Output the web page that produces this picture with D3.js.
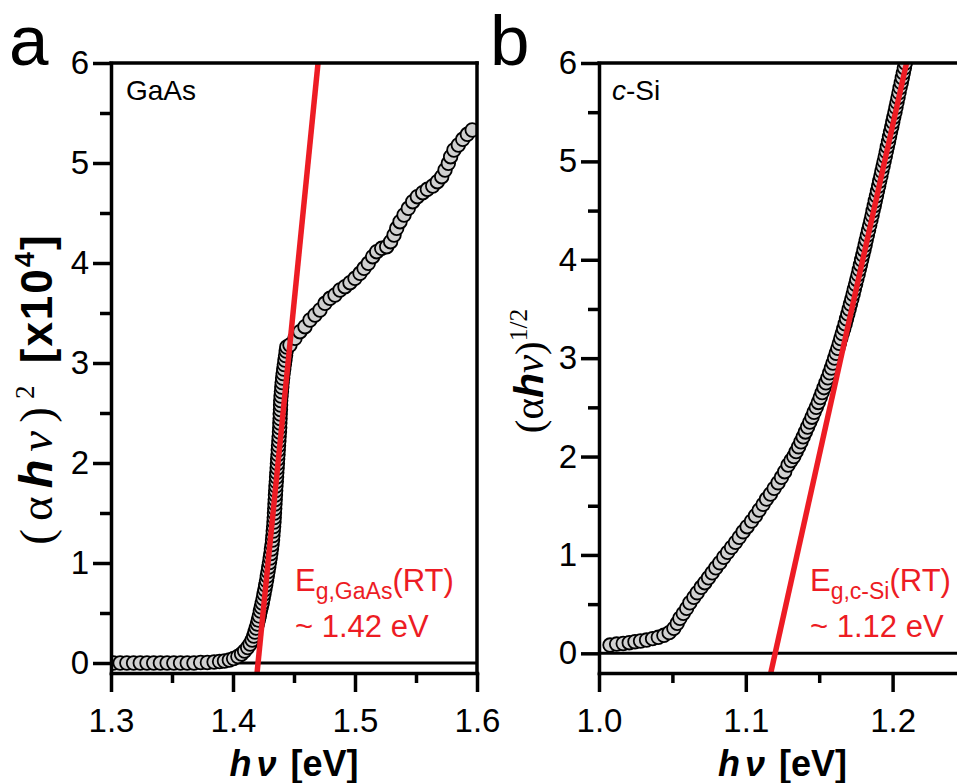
<!DOCTYPE html>
<html>
<head>
<meta charset="utf-8">
<script src="https://cdn.jsdelivr.net/npm/d3@7"></script>
<style>
  body { margin: 0; background: #fff; }
  svg { display: block; }
</style>
</head>
<body>
<div id="chart"></div>
<script>
// ---- values ----
// panel a: GaAs, (alpha h nu)^2 [x10^4] vs h nu [eV]
const gaasE = [
  1.302, 1.3075, 1.313, 1.3185, 1.324, 1.3295, 1.335, 1.3405, 1.346, 1.3515,
  1.357, 1.3625, 1.368, 1.3735, 1.379, 1.3845, 1.389, 1.393,
  1.397, 1.4005, 1.404, 1.407, 1.4095, 1.412, 1.414, 1.4157, 1.417, 1.418,
  1.419, 1.42, 1.4208, 1.4216, 1.4224, 1.4232, 1.424, 1.4247, 1.4254, 1.4261,
  1.4268, 1.4275, 1.4281, 1.4287, 1.4293, 1.4299, 1.4305, 1.431, 1.4315, 1.432,
  1.4324, 1.4327, 1.433, 1.4333, 1.4336, 1.4338, 1.434, 1.4342, 1.4344, 1.4346,
  1.4348, 1.435, 1.4352, 1.4355, 1.4357, 1.4359, 1.4362, 1.4364, 1.4366, 1.4369,
  1.4371, 1.4373, 1.4376, 1.4378, 1.4381, 1.4383, 1.4384, 1.4386, 1.4387, 1.4389,
  1.439, 1.4391, 1.4394, 1.4397, 1.44, 1.4403, 1.4407, 1.4411, 1.4416, 1.4421,
  1.4426, 1.4431, 1.4436, 1.4441,
  1.4467, 1.4508, 1.4549, 1.459, 1.4631, 1.4672, 1.4713, 1.4754, 1.4795, 1.4836,
  1.4877, 1.4918, 1.4959, 1.5, 1.5041, 1.5074, 1.5109, 1.5145, 1.5178, 1.5219,
  1.526, 1.5292, 1.532, 1.5342, 1.5369, 1.5402, 1.5437, 1.5473, 1.5511, 1.5555,
  1.5593, 1.5637, 1.5675, 1.5711, 1.5738, 1.5765, 1.5784, 1.5811, 1.5847, 1.5883,
  1.5921, 1.5961
];
const gaasY = [
  0, 0, 0, 0, 0, 0, 0, 0, 0, 0,
  0, 0, 0, 0.005, 0.005, 0.01, 0.015, 0.02,
  0.03, 0.045, 0.065, 0.09, 0.12, 0.155, 0.19, 0.23, 0.27, 0.31,
  0.35, 0.39, 0.43, 0.47, 0.52, 0.56, 0.6, 0.645, 0.69, 0.735,
  0.78, 0.825, 0.87, 0.915, 0.96, 1.005, 1.05, 1.095, 1.14, 1.185,
  1.23, 1.275, 1.32, 1.365, 1.41, 1.455, 1.5, 1.545, 1.59, 1.635,
  1.68, 1.725, 1.77, 1.815, 1.86, 1.905, 1.95, 1.995, 2.04, 2.085,
  2.13, 2.175, 2.22, 2.265, 2.31, 2.355, 2.4, 2.445, 2.49, 2.535,
  2.58, 2.625, 2.67, 2.715, 2.76, 2.805, 2.85, 2.895, 2.94, 2.985,
  3.03, 3.075, 3.12, 3.16,
  3.18, 3.247, 3.313, 3.363, 3.43, 3.48, 3.53, 3.597, 3.647, 3.68,
  3.73, 3.763, 3.803, 3.847, 3.897, 3.947, 3.997, 4.063, 4.113, 4.147,
  4.163, 4.213, 4.28, 4.347, 4.413, 4.48, 4.547, 4.613, 4.663, 4.703,
  4.737, 4.77, 4.813, 4.863, 4.93, 4.997, 5.063, 5.13, 5.18, 5.237,
  5.287, 5.33
];
const gaasFitE = [1.4197, 1.4697];
const gaasFitY = [-0.1, 6];

// panel b: c-Si, (alpha h nu)^(1/2) vs h nu [eV]
const siE = [
  1.0075, 1.012, 1.0165, 1.0206, 1.0245, 1.0283, 1.0324, 1.0365, 1.0404, 1.0442,
  1.0478, 1.051, 1.0533, 1.0551, 1.0574, 1.0597, 1.0619, 1.0646, 1.0669, 1.0696,
  1.0721, 1.0746, 1.0771, 1.0796, 1.0823, 1.085, 1.0876, 1.0903, 1.093, 1.0955,
  1.0982, 1.1009, 1.1039, 1.1066, 1.1091, 1.1118, 1.1141, 1.1168, 1.1193, 1.122,
  1.1243, 1.1265, 1.1288, 1.1308,
  1.1327, 1.1343, 1.136, 1.1376, 1.1391, 1.1406, 1.1421, 1.1436, 1.1451, 1.1465,
  1.148, 1.1494, 1.1507, 1.152, 1.1533, 1.1546, 1.1559, 1.1571, 1.1583, 1.1594,
  1.1605, 1.1616, 1.1627, 1.1637, 1.1647, 1.1657, 1.1667, 1.1677, 1.1686, 1.1695,
  1.1704, 1.1713, 1.1722, 1.1731, 1.1739, 1.1748, 1.1756, 1.1765, 1.1773, 1.1781,
  1.1789, 1.1797, 1.1805, 1.1813, 1.182, 1.1828, 1.1836, 1.1844, 1.1852, 1.186,
  1.1867, 1.1875, 1.1882, 1.189, 1.1897, 1.1905, 1.1912, 1.192, 1.1927, 1.1935,
  1.1942, 1.195, 1.1957, 1.1964, 1.1972, 1.1979, 1.1986, 1.1994, 1.2001, 1.2008,
  1.2016, 1.2023, 1.203, 1.2037, 1.2044, 1.2051, 1.2059, 1.2066, 1.2073, 1.208,
  1.2087
];
const siY = [
  0.084, 0.094, 0.1, 0.108, 0.118, 0.125, 0.135, 0.149, 0.163, 0.183,
  0.21, 0.254, 0.305, 0.356, 0.406, 0.457, 0.514, 0.569, 0.616, 0.671,
  0.718, 0.768, 0.819, 0.87, 0.921, 0.976, 1.026, 1.077, 1.128, 1.179,
  1.236, 1.287, 1.344, 1.398, 1.456, 1.514, 1.568, 1.619, 1.677, 1.734,
  1.789, 1.846, 1.914, 1.96,
  2.0, 2.05, 2.1, 2.15, 2.2, 2.25, 2.3, 2.35, 2.4, 2.45,
  2.5, 2.55, 2.6, 2.65, 2.7, 2.75, 2.8, 2.85, 2.9, 2.95,
  3.0, 3.05, 3.1, 3.15, 3.2, 3.25, 3.3, 3.35, 3.4, 3.45,
  3.5, 3.55, 3.6, 3.65, 3.7, 3.75, 3.8, 3.85, 3.9, 3.95,
  4.0, 4.05, 4.1, 4.15, 4.2, 4.25, 4.3, 4.35, 4.4, 4.45,
  4.5, 4.55, 4.6, 4.65, 4.7, 4.75, 4.8, 4.85, 4.9, 4.95,
  5.0, 5.05, 5.1, 5.15, 5.2, 5.25, 5.3, 5.35, 5.4, 5.45,
  5.5, 5.55, 5.6, 5.65, 5.7, 5.75, 5.8, 5.85, 5.9, 5.95,
  6.0
];
const siFitE = [1.117, 1.2095];
const siFitY = [-0.2, 6];

const yMajor = [0, 1, 2, 3, 4, 5, 6];
const yMinor = [0.5, 1.5, 2.5, 3.5, 4.5, 5.5];
const gaasXMajor = [1.3, 1.4, 1.5, 1.6];
const gaasXMinor = [1.35, 1.45, 1.55];
const siXMajor = [1.0, 1.1, 1.2];
const siXMinor = [1.05, 1.15, 1.25];

// ---- drawing ----
const W = 957, H = 783;
const TOP = 63, BOTTOM = 673;
const RED = '#ed1c24';
const SANS = '"Liberation Sans", Arial, Helvetica, sans-serif';
const SERIF = '"Liberation Serif", "Times New Roman", serif';
const AXIS_W = 3.5;

const svg = d3.select('#chart').append('svg')
  .attr('width', W)
  .attr('height', H)
  .attr('viewBox', [0, 0, W, H]);
svg.append('rect').attr('width', W).attr('height', H).attr('fill', '#fff');

function styleAxis(sel) {
  sel.select('.domain').attr('stroke-width', AXIS_W).attr('stroke-linecap', 'square');
  sel.selectAll('.tick line').attr('stroke-width', AXIS_W);
  sel.selectAll('.tick text')
    .attr('font-family', SANS)
    .attr('font-size', 33)
    .attr('fill', '#000');
}

function drawPanel(p) {
  const x = d3.scaleLinear().domain(p.xDomain).range([p.left, p.right]);
  const y = d3.scaleLinear().domain(p.yDomain).range([BOTTOM, TOP]);
  const g = svg.append('g');

  g.append('clipPath').attr('id', 'clip-' + p.id)
    .append('rect')
    .attr('x', p.left).attr('y', TOP)
    .attr('width', p.right - p.left).attr('height', BOTTOM - TOP);
  const plot = g.append('g').attr('clip-path', `url(#clip-${p.id})`);

  // zero line
  plot.append('line')
    .attr('x1', p.left).attr('x2', p.right)
    .attr('y1', y(0)).attr('y2', y(0))
    .attr('stroke', '#000').attr('stroke-width', 3);

  // measured points
  plot.append('g')
    .selectAll('circle')
    .data(d3.zip(p.E, p.Y))
    .join('circle')
    .attr('cx', d => x(d[0]))
    .attr('cy', d => y(d[1]))
    .attr('r', 6.8)
    .attr('fill', '#d0d0d0')
    .attr('stroke', '#000')
    .attr('stroke-width', 1.8);

  // linear fit
  plot.append('line')
    .attr('x1', x(p.fitE[0])).attr('y1', y(p.fitY[0]))
    .attr('x2', x(p.fitE[1])).attr('y2', y(p.fitY[1]))
    .attr('stroke', RED).attr('stroke-width', 5.5);

  // frame top / right
  g.append('line')
    .attr('x1', p.left).attr('x2', p.right).attr('y1', TOP).attr('y2', TOP)
    .attr('stroke', '#000').attr('stroke-width', AXIS_W).attr('stroke-linecap', 'square');
  g.append('line')
    .attr('x1', p.right).attr('x2', p.right).attr('y1', TOP).attr('y2', BOTTOM)
    .attr('stroke', '#000').attr('stroke-width', AXIS_W).attr('stroke-linecap', 'square');

  // axes
  g.append('g').attr('transform', `translate(${p.left},0)`)
    .call(d3.axisLeft(y).tickValues(yMinor).tickSize(11).tickSizeOuter(0).tickFormat(''))
    .call(s => s.select('.domain').remove())
    .call(styleAxis);
  g.append('g').attr('transform', `translate(${p.left},0)`)
    .call(d3.axisLeft(y).tickValues(yMajor).tickSize(18).tickSizeOuter(0)
      .tickPadding(4).tickFormat(d3.format('d')))
    .call(styleAxis);
  g.append('g').attr('transform', `translate(0,${BOTTOM})`)
    .call(d3.axisBottom(x).tickValues(p.xMinor).tickSize(10).tickSizeOuter(0).tickFormat(''))
    .call(s => s.select('.domain').remove())
    .call(styleAxis);
  g.append('g').attr('transform', `translate(0,${BOTTOM})`)
    .call(d3.axisBottom(x).tickValues(p.xMajor).tickSize(19).tickSizeOuter(0)
      .tickPadding(17).tickFormat(d3.format('.1f')))
    .call(styleAxis);

  // panel letter
  g.append('text')
    .attr('x', p.letterX).attr('y', 65)
    .attr('font-family', SANS).attr('font-size', 71)
    .text(p.letter);

  // sample name
  const s = g.append('text')
    .attr('x', p.left + p.sampleDx).attr('y', 100)
    .attr('font-family', SANS).attr('font-size', 28);
  p.sample.forEach(part => s.append('tspan').attr('font-style', part[1] ? 'italic' : null).text(part[0]));

  // band gap annotation
  const a1 = g.append('text')
    .attr('x', p.annX).attr('y', 591)
    .attr('fill', RED).attr('font-family', SANS).attr('font-size', 31);
  a1.append('tspan').text('E');
  a1.append('tspan').attr('font-size', 23).attr('dy', 8).text(p.sub);
  a1.append('tspan').attr('dy', -8).text('(RT)');
  g.append('text')
    .attr('x', p.annX).attr('y', 637)
    .attr('fill', RED).attr('font-family', SANS).attr('font-size', 31)
    .text(p.eg);

  // x title
  const xt = g.append('text')
    .attr('x', (p.left + p.right) / 2).attr('y', 776)
    .attr('text-anchor', 'middle')
    .attr('font-family', SANS).attr('font-size', 36).attr('font-weight', 'bold');
  xt.append('tspan').attr('font-style', 'italic').text('h');
  xt.append('tspan').attr('font-style', 'italic').attr('dx', 5).text('ν');
  xt.append('tspan').attr('dx', 14).text('[eV]');

  // y title
  const t = p.yTitle;
  const yt = g.append('text')
    .attr('transform', `translate(${t.x},${t.y}) rotate(-90)`)
    .attr('text-anchor', 'middle')
    .attr('font-size', t.size);
  const serif = sel => sel.attr('font-family', SERIF).attr('font-size', t.serifSize).attr('letter-spacing', t.serifGap);
  const bold = sel => sel.attr('font-family', SANS).attr('font-weight', 'bold').attr('letter-spacing', t.sansGap);
  const sup = Math.round(t.size * 0.4);
  yt.append('tspan').call(serif).text('(α');
  yt.append('tspan').call(serif).attr('font-family', SANS).attr('font-weight', 'bold').attr('font-style', 'italic').text('h');
  yt.append('tspan').call(serif).attr('font-style', 'italic').text('ν');
  yt.append('tspan').call(serif).text(')');
  yt.append('tspan').call(serif).attr('font-size', t.size * 0.62).attr('dy', -sup).text(t.power);
  if (t.scale) {
    yt.append('tspan').call(bold).attr('dy', sup).text(' [x10');
    yt.append('tspan').call(bold).attr('font-size', t.size * 0.62).attr('dy', -sup).text(t.scale);
    yt.append('tspan').call(bold).attr('dy', sup).text(']');
  }
}

drawPanel({
  id: 'a', left: 111, right: 477,
  xDomain: [1.3, 1.6], yDomain: [-0.1, 6],
  E: gaasE, Y: gaasY, fitE: gaasFitE, fitY: gaasFitY,
  xMajor: gaasXMajor, xMinor: gaasXMinor,
  letter: 'a', letterX: 9,
  sample: [['GaAs', false]], sampleDx: 15,
  sub: 'g,GaAs', eg: '~ 1.42 eV', annX: 295,
  yTitle: { x: 52, y: 389, size: 44, serifSize: 47, serifGap: 8, sansGap: 2, power: '2', scale: '4' }
});

drawPanel({
  id: 'b', left: 599, right: 966,
  xDomain: [1.0, 1.25], yDomain: [-0.2, 6],
  E: siE, Y: siY, fitE: siFitE, fitY: siFitY,
  xMajor: siXMajor, xMinor: siXMinor,
  letter: 'b', letterX: 490,
  sample: [['c', true], ['-Si', false]], sampleDx: 13,
  sub: 'g,c-Si', eg: '~ 1.12 eV', annX: 810,
  yTitle: { x: 543, y: 371, size: 41, serifSize: 41, serifGap: 0, sansGap: 0, power: '1/2', scale: null }
});
</script>
</body>
</html>
